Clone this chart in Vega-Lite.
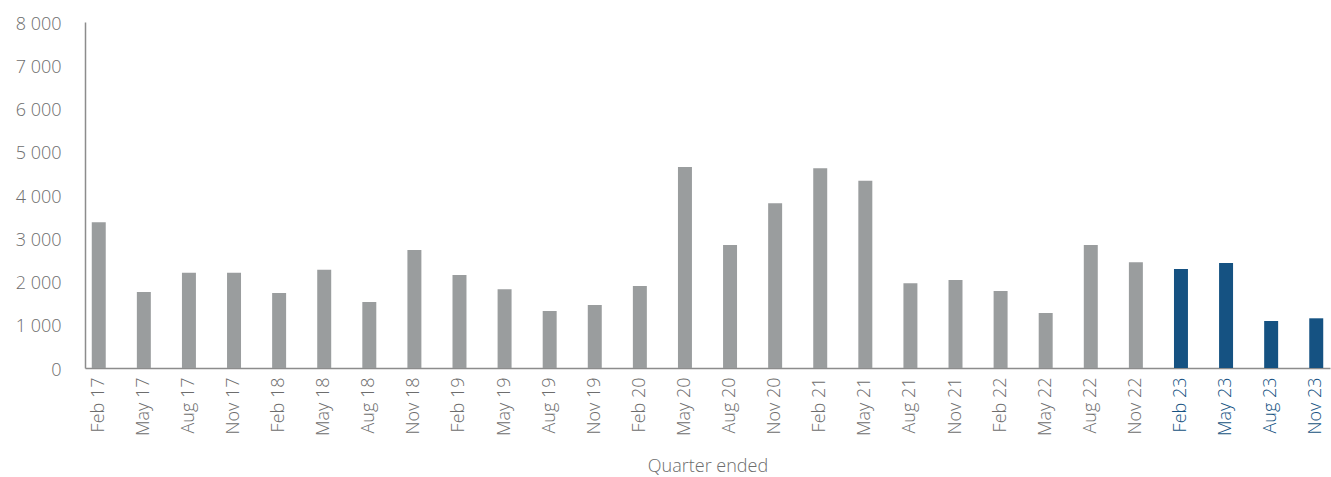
{
  "$schema": "https://vega.github.io/schema/vega-lite/v6.json",
  "width": 1245,
  "height": 346,
  "autosize": {"type": "none"},
  "padding": {"left": 85, "top": 22, "right": 1, "bottom": 109},
  "background": "white",
  "config": {
    "view": {"stroke": null},
    "font": "Open Sans",
    "axis": {
      "labelFont": "Open Sans",
      "labelFontWeight": 300,
      "labelFontSize": 18,
      "labelColor": "#6d6d6d",
      "titleFont": "Open Sans",
      "titleFontWeight": 300,
      "titleFontSize": 18,
      "titleColor": "#6d6d6d",
      "domainColor": "#8c8c8c",
      "domainWidth": 1.5,
      "ticks": false,
      "grid": false
    }
  },
  "data": {
    "values": [
      {"quarter": "Feb 17", "value": 3370, "group": "past"},
      {"quarter": "May 17", "value": 1760, "group": "past"},
      {"quarter": "Aug 17", "value": 2200, "group": "past"},
      {"quarter": "Nov 17", "value": 2200, "group": "past"},
      {"quarter": "Feb 18", "value": 1735, "group": "past"},
      {"quarter": "May 18", "value": 2270, "group": "past"},
      {"quarter": "Aug 18", "value": 1525, "group": "past"},
      {"quarter": "Nov 18", "value": 2730, "group": "past"},
      {"quarter": "Feb 19", "value": 2150, "group": "past"},
      {"quarter": "May 19", "value": 1820, "group": "past"},
      {"quarter": "Aug 19", "value": 1318, "group": "past"},
      {"quarter": "Nov 19", "value": 1457, "group": "past"},
      {"quarter": "Feb 20", "value": 1896, "group": "past"},
      {"quarter": "May 20", "value": 4647, "group": "past"},
      {"quarter": "Aug 20", "value": 2844, "group": "past"},
      {"quarter": "Nov 20", "value": 3808, "group": "past"},
      {"quarter": "Feb 21", "value": 4617, "group": "past"},
      {"quarter": "May 21", "value": 4331, "group": "past"},
      {"quarter": "Aug 21", "value": 1958, "group": "past"},
      {"quarter": "Nov 21", "value": 2035, "group": "past"},
      {"quarter": "Feb 22", "value": 1780, "group": "past"},
      {"quarter": "May 22", "value": 1272, "group": "past"},
      {"quarter": "Aug 22", "value": 2844, "group": "past"},
      {"quarter": "Nov 22", "value": 2443, "group": "past"},
      {"quarter": "Feb 23", "value": 2289, "group": "current"},
      {"quarter": "May 23", "value": 2428, "group": "current"},
      {"quarter": "Aug 23", "value": 1087, "group": "current"},
      {"quarter": "Nov 23", "value": 1149, "group": "current"}
    ]
  },
  "mark": {"type": "bar"},
  "encoding": {
    "x": {
      "field": "quarter",
      "type": "nominal",
      "sort": null,
      "scale": {"paddingInner": 0.69, "paddingOuter": 0.15},
      "axis": {
        "title": "Quarter ended",
        "labelAngle": -90,
        "labelPadding": 9,
        "titlePadding": 22,
        "labelColor": {
          "condition": {"test": "indexof(datum.value, ' 23') >= 0", "value": "#155282"},
          "value": "#6d6d6d"
        }
      }
    },
    "y": {
      "field": "value",
      "type": "quantitative",
      "scale": {"domain": [0, 8000], "nice": false},
      "axis": {
        "title": null,
        "values": [0, 1000, 2000, 3000, 4000, 5000, 6000, 7000, 8000],
        "labelExpr": "replace(format(datum.value, ','), ',', ' ')",
        "labelPadding": 24,
        "labelOffset": 2
      }
    },
    "color": {
      "field": "group",
      "type": "nominal",
      "scale": {"domain": ["past", "current"], "range": ["#9a9d9e", "#155282"]},
      "legend": null
    }
  }
}
